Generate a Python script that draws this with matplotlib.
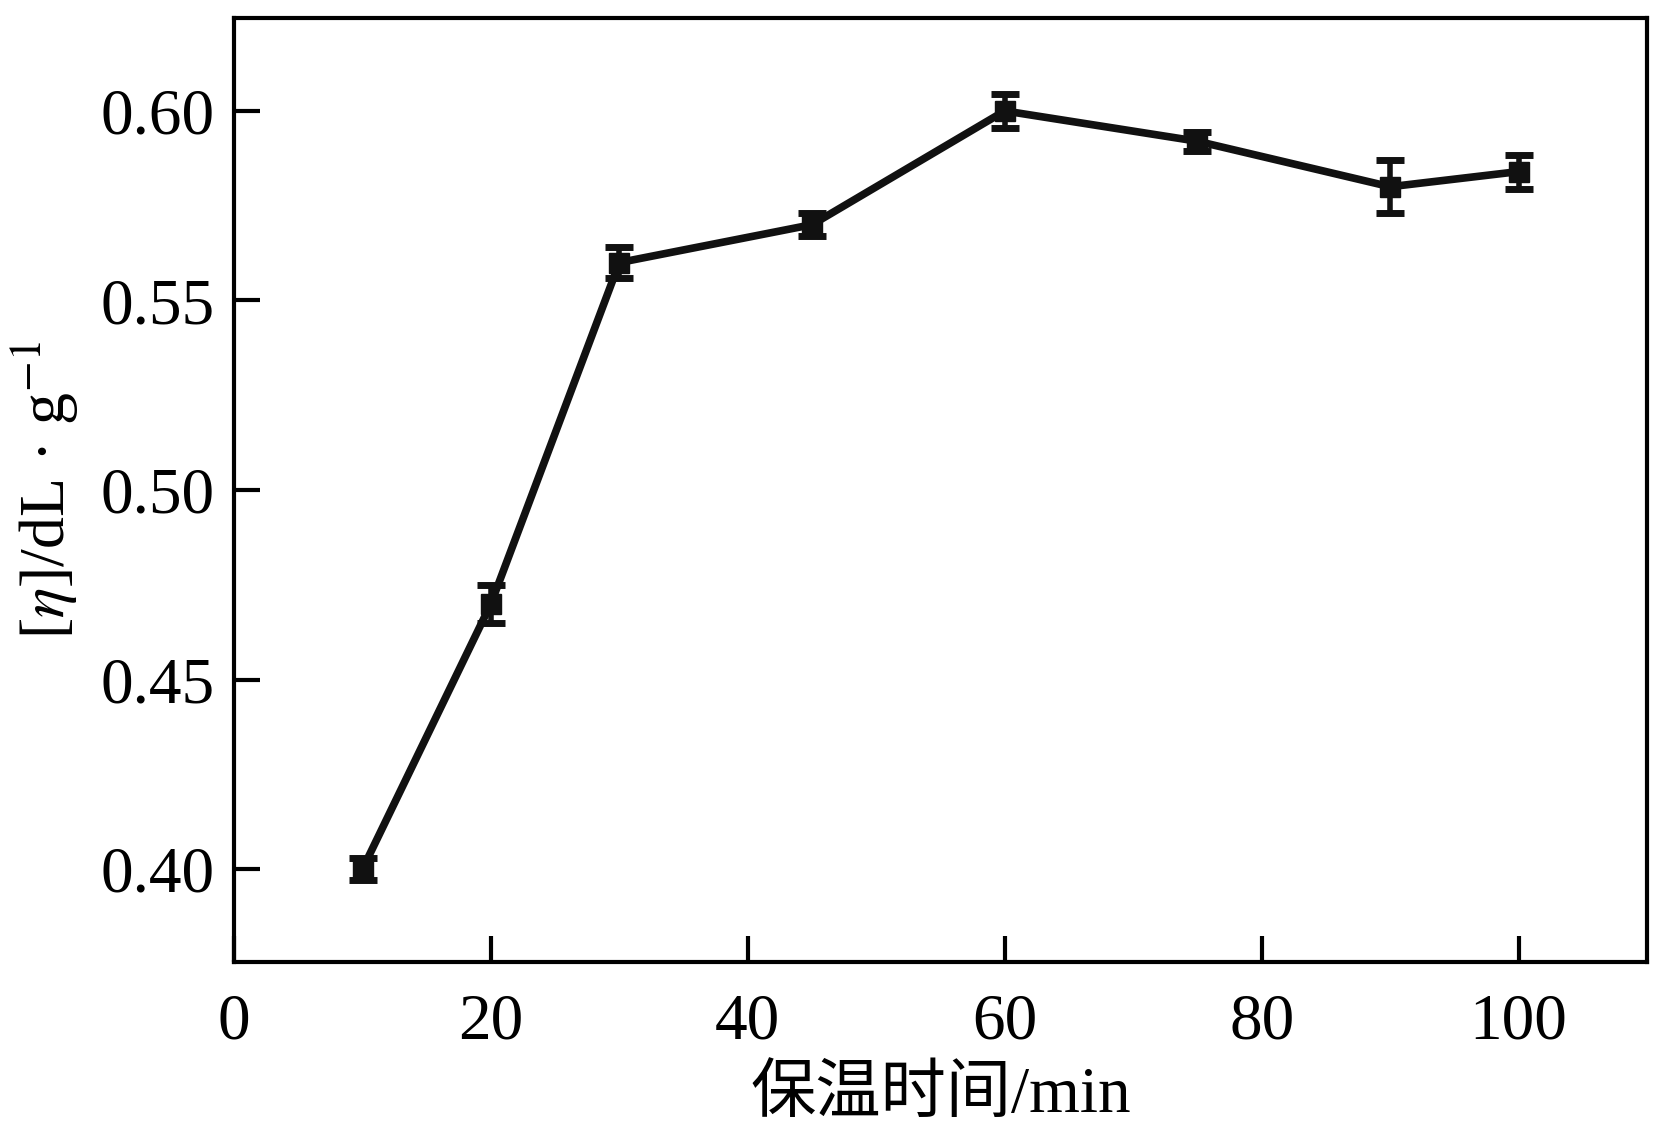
import matplotlib
matplotlib.use('Agg')
import matplotlib.pyplot as plt

plt.rcParams['font.family'] = ['Liberation Serif', 'Noto Sans CJK SC']
plt.rcParams['mathtext.fontset'] = 'stix'

# holding time (min) and intrinsic viscosity
times = [10, 20, 30, 45, 60, 75, 90, 100]
viscosity = [0.400, 0.470, 0.560, 0.570, 0.600, 0.592, 0.580, 0.584]
errors = [0.003, 0.005, 0.004, 0.003, 0.0045, 0.0025, 0.007, 0.0045]

xticks = [0, 20, 40, 60, 80, 100]
yticks = [0.40, 0.45, 0.50, 0.55, 0.60]


def main():
    fig = plt.figure(figsize=(16.66, 11.28), dpi=100)
    ax = fig.add_axes([0.1405, 0.1472, 0.8481, 0.8368])

    ax.errorbar(times, viscosity, yerr=errors, color='#111111', lw=5.5,
                marker='s', ms=14, capsize=10, capthick=5, elinewidth=4)

    ax.set_xlim(0, 110)
    ax.set_ylim(0.3755, 0.6245)
    ax.set_xticks(xticks)
    ax.set_yticks(yticks)
    ax.set_yticklabels(['{:.2f}'.format(v) for v in yticks])

    for s in ax.spines.values():
        s.set_linewidth(3)
    ax.tick_params(direction='in', length=19, width=3, labelsize=47)
    ax.tick_params(axis='x', pad=22)
    ax.tick_params(axis='y', pad=14)

    ax.set_xlabel('保温时间/min', fontsize=47, labelpad=10)
    ax.set_ylabel(r'[$\eta$]/dL · g$^{-1}$', fontsize=46, labelpad=14)

    fig.savefig('out.png', dpi=100)


if __name__ == "__main__":
    main()
